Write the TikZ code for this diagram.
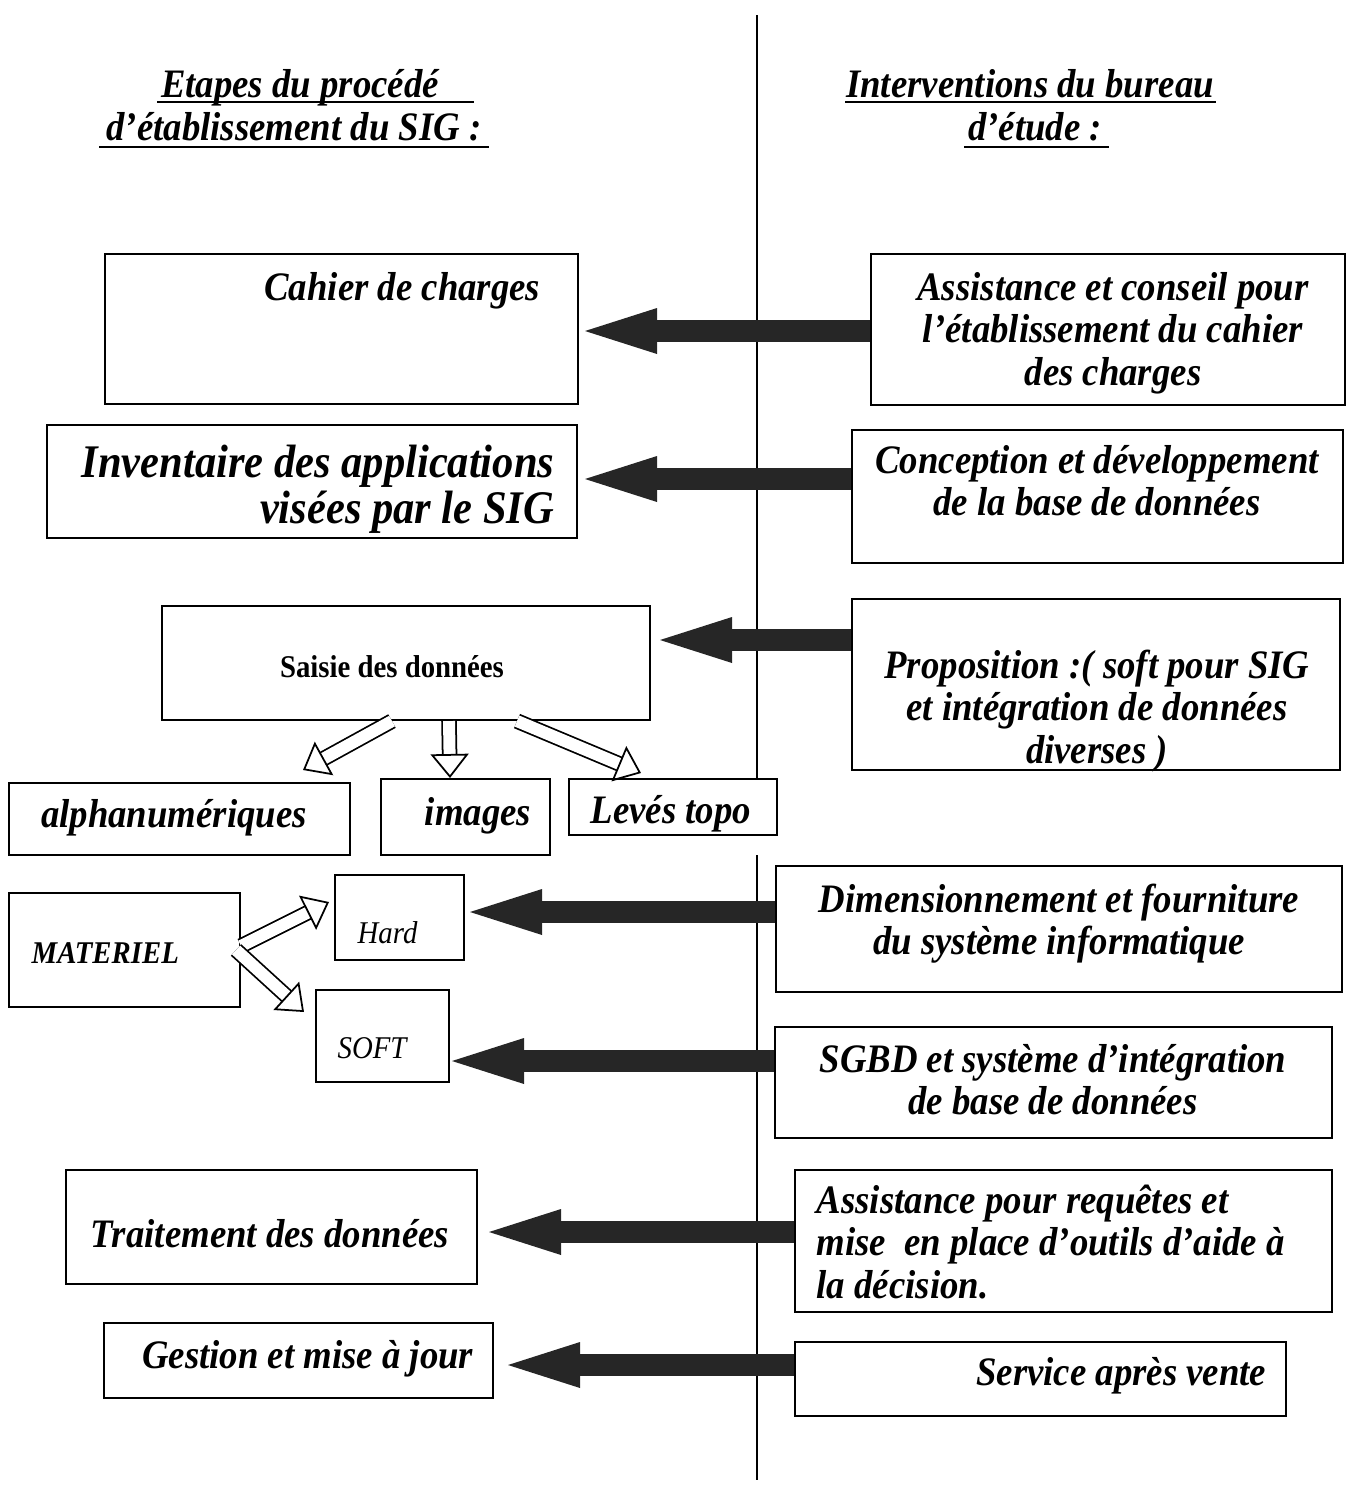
\documentclass[tikz,border=0pt]{standalone}
\usepackage{fontspec}
\setmainfont{Liberation Serif}[FakeStretch=0.91]
\usetikzlibrary{arrows.meta}

\begin{document}
\begin{tikzpicture}[
  box/.style={draw, line width=0.6pt, inner sep=0pt},
  txt/.style={inner sep=0pt, font=\fontsize{11.5}{12.2}\selectfont\bfseries\itshape},
  big/.style={inner sep=0pt, font=\fontsize{13.3}{13.1}\selectfont\bfseries\itshape},
  small/.style={inner sep=0pt, font=\fontsize{9}{10}\selectfont\itshape},
  bigarrow/.style={line width=0.22cm, black!85, -{Triangle[length=0.72cm, width=0.46cm, line width=0pt]}},
  hollow/.style={line width=0.5pt, double, double distance=0.12cm, -{Triangle[open, length=0.24cm, width=0.38cm]}},
  uline/.style={line width=0.8pt}
]
  \useasboundingbox (0,0) rectangle (13.48,-14.86);

  % titles
  \node[txt, anchor=base] (t1) at (3.00,-0.97) {Etapes du procédé};
  \node[txt, anchor=base] (t2) at (2.94,-1.40) {d’établissement du SIG :};
  \node[txt, anchor=base] (t3) at (10.30,-0.97) {Interventions du bureau};
  \node[txt, anchor=base] (t4) at (10.35,-1.40) {d’étude :};
  \draw[uline] (1.57,-1.02) -- (4.74,-1.02);
  \draw[uline] (0.99,-1.47) -- (4.89,-1.47);
  \draw[uline] (8.45,-1.02) -- (12.16,-1.02);
  \draw[uline] (9.64,-1.47) -- (11.09,-1.47);

  % separator
  \draw[line width=0.5pt] (7.57,-0.15) -- (7.57,-7.79);
  \draw[line width=0.5pt] (7.57,-8.55) -- (7.57,-14.80);

  % boxes, left
  \node[box, minimum width=4.73cm, minimum height=1.50cm] (cahier) at (3.415,-3.29) {};
  \node[box, minimum width=5.30cm, minimum height=1.13cm] (inventaire) at (3.12,-4.815) {};
  \node[box, minimum width=4.88cm, minimum height=1.14cm] (saisie) at (4.06,-6.63) {};
  \node[box, minimum width=3.41cm, minimum height=0.72cm] (alpha) at (1.795,-8.19) {};
  \node[box, minimum width=1.69cm, minimum height=0.76cm] (images) at (4.655,-8.17) {};
  \node[box, minimum width=2.08cm, minimum height=0.56cm] (leves) at (6.73,-8.07) {};
  \node[box, minimum width=2.31cm, minimum height=1.14cm] (materiel) at (1.245,-9.50) {};
  \node[box, minimum width=1.29cm, minimum height=0.85cm] (hard) at (3.995,-9.175) {};
  \node[box, minimum width=1.33cm, minimum height=0.92cm] (soft) at (3.825,-10.36) {};
  \node[box, minimum width=4.11cm, minimum height=1.14cm] (traitement) at (2.715,-12.27) {};
  \node[box, minimum width=3.89cm, minimum height=0.75cm] (gestion) at (2.985,-13.605) {};

  % boxes, right
  \node[box, minimum width=4.74cm, minimum height=1.51cm] (conseil) at (11.08,-3.295) {};
  \node[box, minimum width=4.91cm, minimum height=1.33cm] (conception) at (10.975,-4.965) {};
  \node[box, minimum width=4.88cm, minimum height=1.71cm] (proposition) at (10.96,-6.845) {};
  \node[box, minimum width=5.66cm, minimum height=1.26cm] (dimension) at (10.59,-9.29) {};
  \node[box, minimum width=5.57cm, minimum height=1.11cm] (sgbd) at (10.535,-10.825) {};
  \node[box, minimum width=5.37cm, minimum height=1.42cm] (requetes) at (10.635,-12.41) {};
  \node[box, minimum width=4.91cm, minimum height=0.74cm] (sav) at (10.405,-13.79) {};

  % texts, left
  \node[txt, anchor=base east] (tcahier) at (5.41,-3.00) {Cahier de charges};
  \node[big, text width=5.2cm, align=flush right, anchor=base east] (tinventaire) at (5.55,-4.77) {Inventaire des applications\\visées par le SIG};
  \node[inner sep=0pt, font=\fontsize{9}{10}\selectfont\bfseries, anchor=base] (tsaisie) at (3.92,-6.77) {Saisie des données};
  \node[txt, anchor=base] (talpha) at (1.74,-8.27) {alphanumériques};
  \node[txt, anchor=base] (timages) at (4.78,-8.25) {images};
  \node[txt, anchor=base] (tleves) at (6.71,-8.23) {Levés topo};
  \node[small, font=\fontsize{9}{10}\selectfont\bfseries\itshape, anchor=base west] (tmateriel) at (0.31,-9.63) {MATERIEL};
  \node[small, anchor=base west] (thard) at (3.57,-9.43) {Hard};
  \node[small, anchor=base west] (tsoft) at (3.37,-10.58) {SOFT};
  \node[txt, anchor=base] (ttraitement) at (2.70,-12.47) {Traitement des données};
  \node[txt, anchor=base east] (tgestion) at (4.74,-13.68) {Gestion et mise à jour};

  % texts, right
  \node[txt, text width=4.7cm, align=flush center, anchor=base] (tconseil) at (11.13,-3.00) {Assistance et conseil pour\\l’établissement du cahier\\des charges};
  \node[txt, text width=4.8cm, align=flush center, anchor=base] (tconception) at (10.97,-4.73) {Conception et développement\\de la base de données};
  \node[txt, text width=4.8cm, align=flush center, anchor=base] (tproposition) at (10.97,-6.78) {Proposition :( soft pour SIG\\et intégration de données\\diverses )};
  \node[txt, text width=5.5cm, align=flush center, anchor=base] (tdimension) at (10.59,-9.12) {Dimensionnement et fourniture\\du système informatique};
  \node[txt, text width=5.4cm, align=flush center, anchor=base] (tsgbd) at (10.53,-10.72) {SGBD et système d’intégration\\de base de données};
  \node[txt, text width=5.1cm, align=flush left, anchor=base west] (trequetes) at (8.16,-12.13) {Assistance pour requêtes et\\mise\ \ en place d’outils d’aide à\\la décision.};
  \node[txt, anchor=base east] (tsav) at (12.67,-13.85) {Service après vente};

  % tips of the big arrows
  \coordinate (h1) at (5.85,-3.31);
  \coordinate (h2) at (5.85,-4.79);
  \coordinate (h3) at (6.60,-6.40);
  \coordinate (h4) at (4.70,-9.12);
  \coordinate (h5) at (4.52,-10.61);
  \coordinate (h6) at (4.89,-12.32);
  \coordinate (h7) at (5.08,-13.65);

  % big arrows
  \draw[bigarrow] (conseil.west |- h1) to (h1);
  \draw[bigarrow] (conception.west |- h2) to (h2);
  \draw[bigarrow] (proposition.west |- h3) to (h3);
  \draw[bigarrow] (dimension.west |- h4) to (h4);
  \draw[bigarrow] (sgbd.west |- h5) to (h5);
  \draw[bigarrow] (requetes.west |- h6) to (h6);
  \draw[bigarrow] (sav.west |- h7) to (h7);

  % hollow arrows
  \coordinate (g1) at (3.03,-7.70);
  \coordinate (g2) at (4.50,-7.78);
  \coordinate (g3) at (6.41,-7.73);
  \coordinate (g4) at (3.29,-9.02);
  \coordinate (g5) at (3.04,-10.12);
  \draw[hollow] ([xshift=-0.14cm]saisie.south) to (g1);
  \draw[hollow] ([xshift=0.43cm]saisie.south) to (g2);
  \draw[hollow] ([xshift=1.11cm]saisie.south) to (g3);
  \draw[hollow] ([yshift=0.04cm]materiel.east) to (g4);
  \draw[hollow] ([xshift=-0.05cm]materiel.east) to (g5);

\end{tikzpicture}
\end{document}
